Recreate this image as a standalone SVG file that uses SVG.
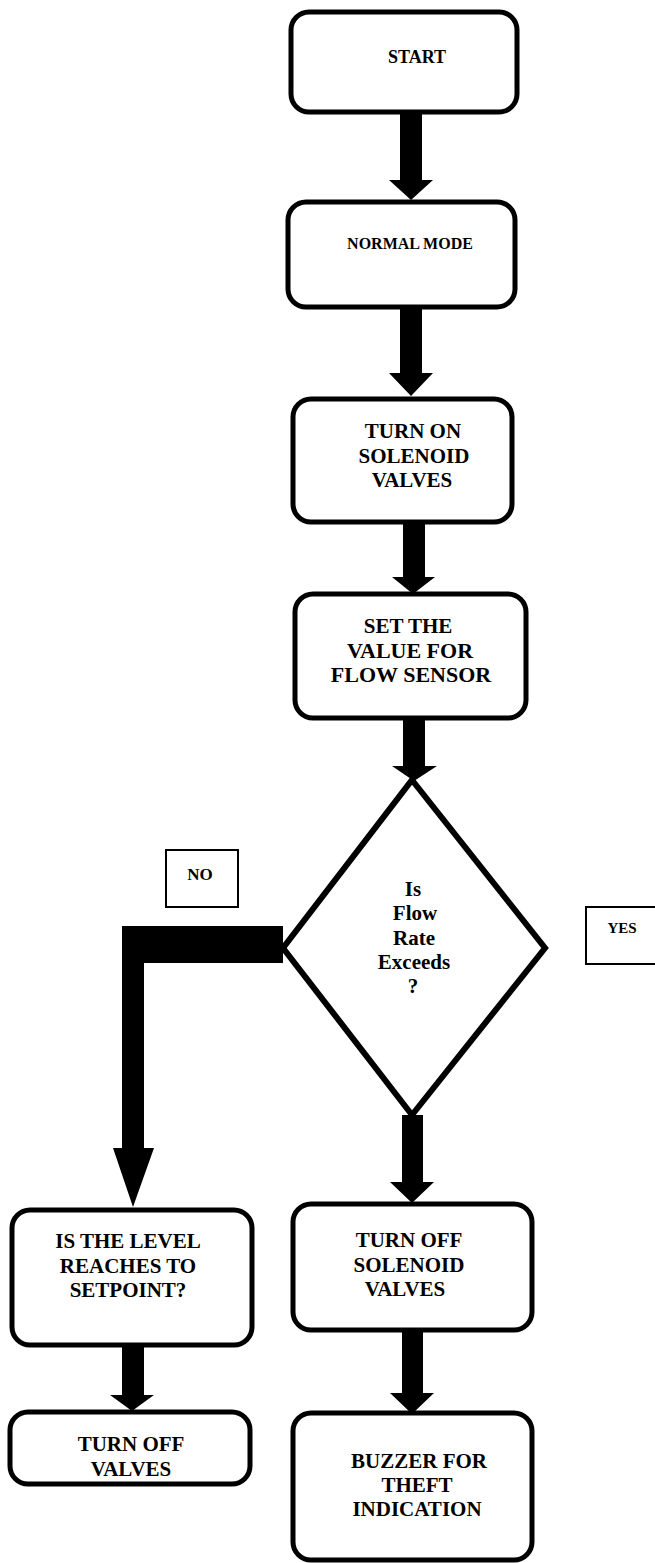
<svg xmlns="http://www.w3.org/2000/svg" width="655" height="1563" viewBox="0 0 655 1563">
<style>
.box{fill:#fff;stroke:#000;stroke-width:5}
.lbl{fill:#fff;stroke:#000;stroke-width:2}
.dia{fill:#fff;stroke:#000;stroke-width:6;stroke-linejoin:miter}
.t{font-family:"Liberation Serif","Times New Roman",serif;font-weight:bold;fill:#000;text-anchor:middle;font-size:21px}
.arr{fill:#000;stroke:none}
</style>
<rect width="655" height="1563" fill="#fff"/>
<g id="connectors">
<polygon class="arr" points="400,112 422,112 422,180 433,180 411,200 389,180 400,180"/>
<polygon class="arr" points="400,307 422,307 422,373 433,373 411,396 389,373 400,373"/>
<polygon class="arr" points="403,522 425,522 425,577 435,577 413,594 392,577 403,577"/>
<polygon class="arr" points="403,718 425,718 425,766 437,766 414,781 392,766 403,766"/>
<polygon class="arr" points="283,926 283,963 144,963 144,1148 154,1148 133,1207 113,1148 122,1148 122,926"/>
<polygon class="arr" points="402,1115 423,1115 423,1182 434,1182 412,1203 390,1182 402,1182"/>
<polygon class="arr" points="122,1345 144,1345 144,1395 154,1395 132,1411 110,1395 122,1395"/>
<polygon class="arr" points="402,1330 423,1330 423,1393 434,1393 412,1414 390,1393 402,1393"/>
</g>
<g id="start">
<rect class="box" x="291" y="12" width="226" height="100" rx="18"/>
<text class="t" x="417" y="63" style="font-size:18px">START</text>
</g>
<g id="normal-mode">
<rect class="box" x="288" y="202" width="227" height="105" rx="18"/>
<text class="t" x="410" y="249" style="font-size:16px">NORMAL MODE</text>
</g>
<g id="turn-on">
<rect class="box" x="293" y="399" width="219" height="123" rx="18"/>
<text class="t" x="413" y="438">TURN ON</text>
<text class="t" x="414" y="463">SOLENOID</text>
<text class="t" x="412" y="487">VALVES</text>
</g>
<g id="set-value">
<rect class="box" x="295" y="594" width="231" height="124" rx="18"/>
<text class="t" x="408" y="633">SET THE</text>
<text class="t" x="410" y="658" style="font-size:22px">VALUE FOR</text>
<text class="t" x="411" y="682" style="font-size:22px">FLOW SENSOR</text>
</g>
<g id="decision">
<polygon class="dia" points="412,780 545,948 412,1115 283,948"/>
<text class="t" x="413" y="896">Is</text>
<text class="t" x="415" y="920">Flow</text>
<text class="t" x="414" y="945">Rate</text>
<text class="t" x="414" y="969">Exceeds</text>
<text class="t" x="413" y="993">?</text>
</g>
<g id="no-label">
<rect class="lbl" x="166" y="850" width="72" height="57"/>
<text class="t" x="200" y="880" style="font-size:17px">NO</text>
</g>
<g id="yes-label">
<rect class="lbl" x="586" y="907" width="72" height="57"/>
<text class="t" x="622" y="933" style="font-size:15px">YES</text>
</g>
<g id="level">
<rect class="box" x="12" y="1210" width="240" height="135" rx="18"/>
<text class="t" x="128" y="1248">IS THE LEVEL</text>
<text class="t" x="128" y="1273">REACHES TO</text>
<text class="t" x="128" y="1297">SETPOINT?</text>
</g>
<g id="turn-off-valves">
<rect class="box" x="10" y="1412" width="240" height="72" rx="18"/>
<text class="t" x="131" y="1451">TURN OFF</text>
<text class="t" x="131" y="1476">VALVES</text>
</g>
<g id="turn-off-solenoid">
<rect class="box" x="293" y="1204" width="239" height="126" rx="18"/>
<text class="t" x="409" y="1247">TURN OFF</text>
<text class="t" x="409" y="1272">SOLENOID</text>
<text class="t" x="405" y="1296">VALVES</text>
</g>
<g id="buzzer">
<rect class="box" x="293" y="1413" width="239" height="147" rx="18"/>
<text class="t" x="419" y="1468">BUZZER FOR</text>
<text class="t" x="417" y="1492">THEFT</text>
<text class="t" x="417" y="1516">INDICATION</text>
</g>
</svg>
